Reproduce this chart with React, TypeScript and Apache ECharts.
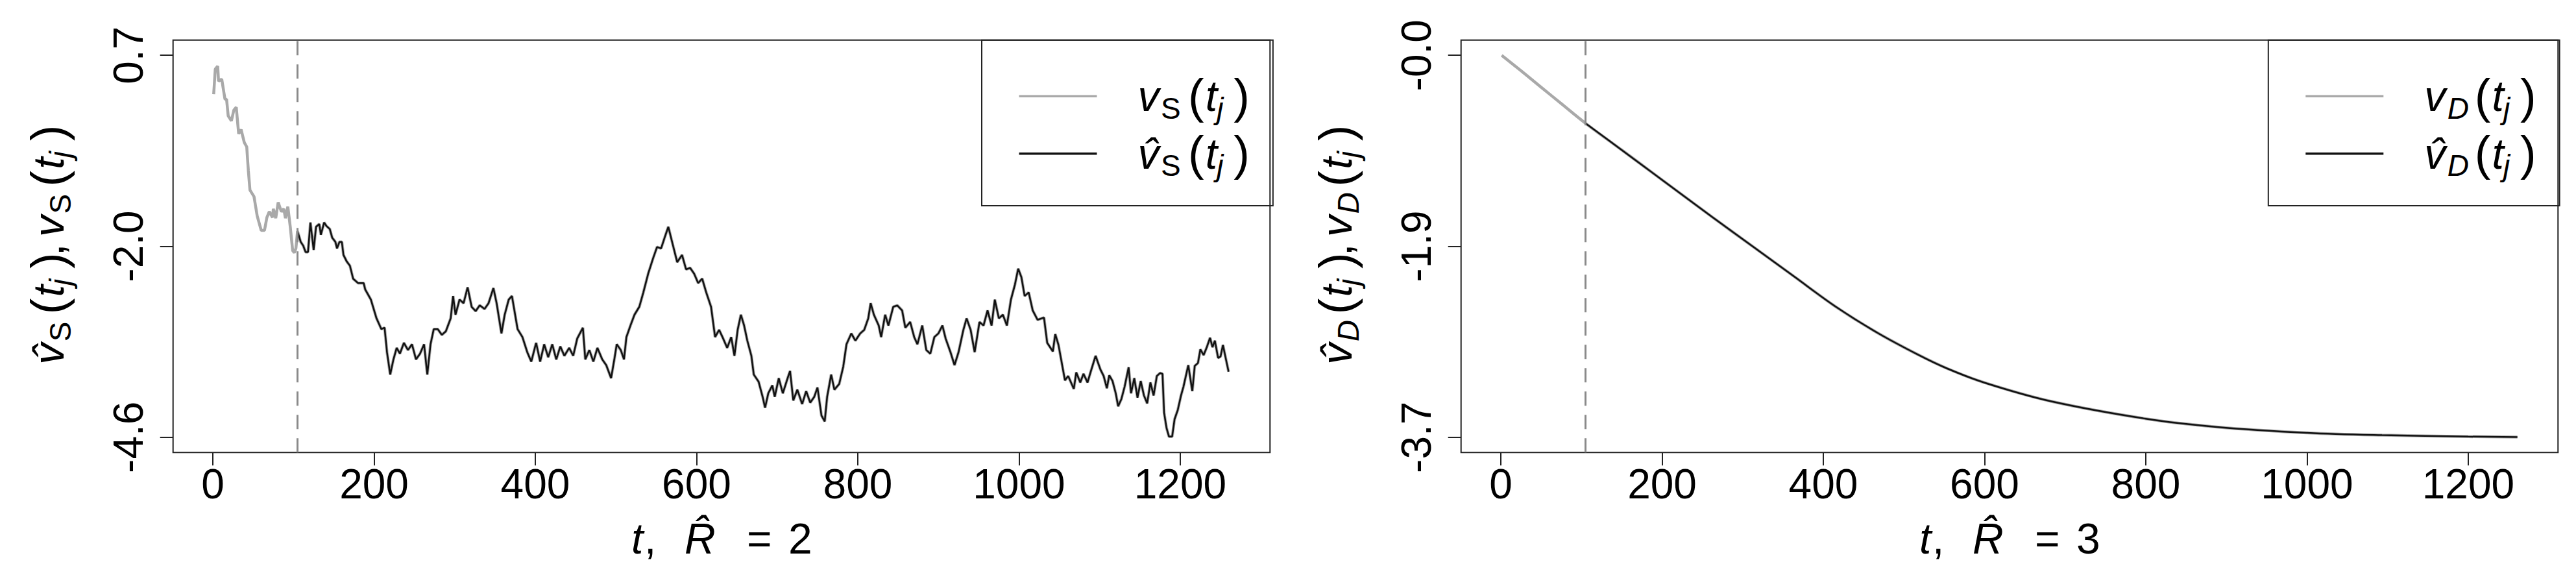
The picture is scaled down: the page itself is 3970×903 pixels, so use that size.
import React, { useEffect, useRef } from 'react';
import * as echarts from 'echarts';

const FONT = '"Liberation Sans", Arial, Helvetica, sans-serif';
const GRAY = '#a9a9a9';
const BLACK = '#111111';
const DASH = '#8a8a8a';
const FRAME = '#222222';

// Panel 1: v_S(t_j) as [t, value]
const sPoints: number[][] = [
  [1, 0.14], [3, 0.49], [6, 0.53], [7, 0.32], [11, 0.35], [15, 0.07], [17, 0.07], [19, -0.16], [23, -0.23], [26, -0.08],
  [29, -0.04], [32, -0.41], [35, -0.35], [39, -0.53], [42, -0.59], [44, -0.92], [46, -1.19], [51, -1.28], [55, -1.55], [60, -1.75],
  [64, -1.75], [67, -1.57], [70, -1.49], [74, -1.57], [75, -1.45], [78, -1.58], [81, -1.36], [85, -1.49], [88, -1.45], [90, -1.58],
  [93, -1.42], [96, -1.7], [99, -2.03], [101, -2.06], [103, -2.0], [105, -1.76], [109, -1.91], [112, -1.96], [115, -2.05], [118, -2.05],
  [121, -1.64], [125, -2.02], [128, -1.7], [132, -1.66], [134, -1.81], [138, -1.64], [141, -1.69], [145, -1.73], [148, -1.85], [152, -1.91],
  [154, -2.0], [157, -1.91], [160, -1.91], [162, -2.09], [166, -2.18], [170, -2.24], [174, -2.42], [180, -2.48], [187, -2.48], [189, -2.57],
  [196, -2.71], [203, -2.97], [209, -3.12], [213, -3.1], [216, -3.44], [220, -3.75], [224, -3.54], [228, -3.38], [232, -3.46], [237, -3.31],
  [242, -3.41], [247, -3.33], [252, -3.54], [257, -3.46], [262, -3.33], [266, -3.75], [270, -3.33], [274, -3.12], [279, -3.12], [284, -3.2],
  [289, -3.15], [295, -2.97], [298, -2.66], [301, -2.92], [306, -2.71], [311, -2.76], [316, -2.54], [321, -2.81], [326, -2.87], [331, -2.79],
  [337, -2.84], [342, -2.76], [348, -2.55], [352, -2.76], [358, -3.18], [362, -2.92], [367, -2.71], [371, -2.66], [378, -3.12], [384, -3.23],
  [390, -3.44], [395, -3.57], [401, -3.31], [406, -3.57], [411, -3.33], [416, -3.51], [421, -3.33], [426, -3.54], [431, -3.36], [436, -3.49],
  [442, -3.38], [447, -3.49], [452, -3.25], [459, -3.1], [462, -3.54], [467, -3.41], [472, -3.57], [477, -3.38], [483, -3.54], [488, -3.62],
  [494, -3.8], [498, -3.54], [501, -3.33], [506, -3.41], [510, -3.54], [513, -3.23], [518, -3.07], [523, -2.92], [529, -2.81], [534, -2.61],
  [540, -2.35], [546, -2.14], [551, -1.98], [556, -2.0], [561, -1.83], [565, -1.7], [569, -1.88], [576, -2.19], [582, -2.09], [587, -2.29],
  [592, -2.27], [597, -2.35], [602, -2.48], [607, -2.42], [612, -2.61], [618, -2.81], [623, -3.23], [628, -3.13], [633, -3.25], [638, -3.38],
  [643, -3.23], [647, -3.49], [651, -3.13], [655, -2.92], [659, -3.07], [663, -3.28], [668, -3.49], [671, -3.75], [677, -3.85], [682, -4.06],
  [685, -4.21], [689, -4.01], [694, -3.9], [697, -4.06], [702, -3.8], [707, -4.01], [713, -3.8], [716, -3.7], [720, -4.11], [725, -3.96],
  [731, -4.16], [736, -3.98], [741, -4.14], [746, -4.06], [750, -3.93], [755, -4.32], [759, -4.4], [762, -4.06], [767, -3.75], [771, -3.96],
  [777, -3.88], [782, -3.64], [786, -3.33], [792, -3.18], [797, -3.28], [803, -3.18], [808, -3.13], [813, -2.97], [816, -2.76], [820, -2.92],
  [826, -3.07], [829, -3.23], [834, -2.92], [838, -3.07], [844, -2.81], [849, -2.79], [855, -2.86], [859, -3.1], [865, -3.02], [870, -3.23],
  [874, -3.33], [880, -3.07], [885, -3.41], [890, -3.46], [895, -3.23], [900, -3.18], [905, -3.07], [909, -3.25], [915, -3.44], [920, -3.62],
  [925, -3.44], [931, -3.13], [935, -2.97], [940, -3.13], [945, -3.44], [951, -3.02], [956, -3.07], [961, -2.86], [966, -3.07], [970, -2.71],
  [975, -2.97], [980, -2.92], [985, -3.07], [990, -2.71], [995, -2.5], [999, -2.28], [1003, -2.4], [1007, -2.66], [1012, -2.61], [1017, -2.86],
  [1023, -2.99], [1031, -2.96], [1035, -3.31], [1042, -3.43], [1045, -3.19], [1049, -3.34], [1057, -3.83], [1061, -3.77], [1068, -3.95], [1071, -3.72],
  [1076, -3.86], [1080, -3.74], [1085, -3.86], [1089, -3.71], [1095, -3.49], [1101, -3.68], [1105, -3.77], [1109, -3.94], [1112, -3.76], [1116, -3.84],
  [1120, -4.01], [1123, -4.19], [1127, -4.09], [1131, -3.92], [1136, -3.65], [1139, -4.01], [1143, -3.8], [1147, -4.07], [1151, -3.84], [1155, -4.04],
  [1159, -4.15], [1163, -3.86], [1167, -4.04], [1171, -3.77], [1175, -3.73], [1178, -3.74], [1180, -4.28], [1183, -4.49], [1186, -4.61], [1190, -4.61],
  [1193, -4.37], [1197, -4.24], [1201, -4.04], [1204, -3.92], [1210, -3.62], [1215, -3.98], [1218, -3.63], [1222, -3.59], [1225, -3.4], [1229, -3.48],
  [1233, -3.37], [1237, -3.24], [1240, -3.37], [1243, -3.28], [1247, -3.52], [1250, -3.5], [1253, -3.34], [1256, -3.5], [1260, -3.71],
];

// Panel 2: v_D(t_j) as [t, value]
const dPoints: number[][] = [
  [1, -0.01], [25, -0.16], [50, -0.32], [75, -0.48], [105, -0.67], [150, -0.93], [200, -1.22], [262, -1.58], [313, -1.87], [364, -2.16],
  [415, -2.45], [467, -2.705], [518, -2.92], [553, -3.05], [600, -3.19], [682, -3.37], [800, -3.54], [888, -3.62], [1000, -3.677], [1093, -3.7],
  [1200, -3.714], [1261, -3.718],
];

const splitT = 105; // dashed line: start of the estimated part
const tRange = [1, 1261];
const xTicks = [0, 200, 400, 600, 800, 1000, 1200];
const yTicksS = [-4.62, -1.97, 0.68];
const yLabelsS = ['-4.6', '-2.0', '0.7'];
const yTicksD = [-3.72, -1.865, -0.01];
const yLabelsD = ['-3.7', '-1.9', '-0.0'];
const rHatValues = [2, 3];
const subLetters = ['S', 'D'];

const HAT = '\u0302';

function pad4(lo: number, hi: number) {
  const p = 0.04 * (hi - lo);
  return [lo - p, hi + p];
}

const base = { fontFamily: FONT, color: '#000', lineHeight: 80, align: 'left' };
function mathRich(subItalic: boolean) {
  return {
    sp: { width: 58, lineHeight: 80, align: 'left' },
    v: { ...base, fontSize: 66, fontStyle: 'italic', width: 35.5 },
    s: { ...base, fontSize: 46, fontStyle: subItalic ? 'italic' : 'normal', padding: [37, 0, 0, 0], width: 42 },
    lp: { ...base, fontSize: 74, width: 26.7 },
    t: { ...base, fontSize: 66, fontStyle: 'italic', width: 17.5 },
    j: { ...base, fontSize: 46, fontStyle: 'italic', padding: [37, 0, 0, 0], width: 26 },
    rp: { ...base, fontSize: 74, width: 20 },
    cm: { ...base, fontSize: 66, width: 29 },
  };
}
function mathLabel(sub: string, hat: boolean) {
  return `{v|v${hat ? HAT : ''}}{s|${sub}}{lp|(}{t|t}{j|j}{rp|)}`;
}

const xRich = {
  tt: { ...base, fontSize: 66, fontStyle: 'italic', width: 20 },
  cm: { ...base, fontSize: 66, width: 62 },
  r: { ...base, fontSize: 66, fontStyle: 'italic', width: 96 },
  eq: { ...base, fontSize: 66, width: 64 },
  n: { ...base, fontSize: 66, width: 36 },
};

export default function App() {
  const ref = useRef<HTMLDivElement>(null);
  useEffect(() => {
    if (!ref.current) return;
    const chart = echarts.init(ref.current, null, { renderer: 'svg' });
    const [xMin, xMax] = pad4(tRange[0], tRange[1]);
    const yTicks = [yTicksS, yTicksD];
    const yLabels = [yLabelsS, yLabelsD];
    const points = [sPoints, dPoints];
    const gridLefts = [266.7, 2251.7];
    const legendLefts = [1513, 3495.8];

    const grids = gridLefts.map((l) => ({
      left: l, top: 61.7, width: 1690.6, height: 635.6,
      show: true, borderColor: FRAME, borderWidth: 2, backgroundColor: 'transparent',
    }));

    const xAxes = [0, 1].map((i) => ({
      type: 'value', gridIndex: i, min: xMin, max: xMax,
      axisLine: { show: false, onZero: false },
      axisTick: { show: true, length: 20, lineStyle: { color: FRAME, width: 2 }, customValues: xTicks },
      axisLabel: { customValues: xTicks, margin: 17, fontSize: 64, lineHeight: 64, color: '#000', fontFamily: FONT, formatter: (v: number) => String(v) },
      splitLine: { show: false },
      name: `{tt|t}{cm|,}{r|R${HAT}}{eq|=}{n|${rHatValues[i]}}`,
      nameLocation: 'middle', nameGap: 93,
      nameTextStyle: { rich: xRich },
    }));

    const yAxes = [0, 1].map((i) => {
      const [lo, hi] = pad4(yTicks[i][0], yTicks[i][2]);
      return {
        type: 'value', gridIndex: i, min: lo, max: hi,
        axisLine: { show: false, onZero: false },
        axisTick: { show: true, length: 20, lineStyle: { color: FRAME, width: 2 }, customValues: yTicks[i] },
        axisLabel: {
          customValues: yTicks[i], rotate: 90, margin: 37, fontSize: 64, lineHeight: 64, color: '#000', fontFamily: FONT,
          formatter: (v: number) => {
            const k = yTicks[i].findIndex((t) => Math.abs(t - v) < 1e-6);
            return k >= 0 ? yLabels[i][k] : '';
          },
        },
        splitLine: { show: false },
        name: mathLabel(subLetters[i], true) + '{cm|,}' + mathLabel(subLetters[i], false),
        nameLocation: 'middle', nameRotate: 90, nameGap: 152,
        nameTextStyle: { rich: mathRich(i === 1) },
      };
    });

    const series: any[] = [];
    [0, 1].forEach((i) => {
      const sub = subLetters[i];
      const smooth = i === 1 ? 0.35 : false;
      series.push({
        type: 'line', name: 'v' + sub, xAxisIndex: i, yAxisIndex: i,
        data: points[i], symbol: 'none', showSymbol: false, smooth,
        lineStyle: { color: GRAY, width: 4.5 }, itemStyle: { color: GRAY }, z: 2,
        markLine: {
          silent: true, symbol: ['none', 'none'], label: { show: false },
          lineStyle: { color: DASH, width: 3, type: [22, 14] },
          data: [{ xAxis: splitT }],
        },
      });
      series.push({
        type: 'line', name: 'v' + sub + 'Hat', xAxisIndex: i, yAxisIndex: i,
        data: points[i].filter((p) => p[0] >= splitT), symbol: 'none', showSymbol: false, smooth,
        lineStyle: { color: BLACK, width: 2.5 }, itemStyle: { color: BLACK }, z: 3,
      });
    });

    const legends = [0, 1].map((i) => {
      const sub = subLetters[i];
      return {
        orient: 'vertical', left: legendLefts[i], top: 61.7,
        padding: [45, 36, 38.7, 57.5],
        itemWidth: 120, itemHeight: 3.5, itemGap: 5.6,
        borderColor: FRAME, borderWidth: 2, selectedMode: false,
        data: [
          { name: 'v' + sub, icon: 'rect', itemStyle: { color: GRAY, borderWidth: 0 } },
          { name: 'v' + sub + 'Hat', icon: 'rect', itemStyle: { color: BLACK, borderWidth: 0 } },
        ],
        formatter: (name: string) => '{sp|}' + mathLabel(sub, name.endsWith('Hat')),
        textStyle: { fontFamily: FONT, fontSize: 66, color: '#000', rich: mathRich(i === 1) },
      };
    });

    chart.setOption({
      animation: false,
      backgroundColor: '#ffffff',
      textStyle: { fontFamily: FONT },
      grid: grids,
      xAxis: xAxes,
      yAxis: yAxes,
      legend: legends,
      series,
    });
    return () => chart.dispose();
  }, []);
  return <div ref={ref} style={{ position: 'absolute', left: 0, top: 0, width: 3970, height: 903, background: '#fff' }} />;
}
